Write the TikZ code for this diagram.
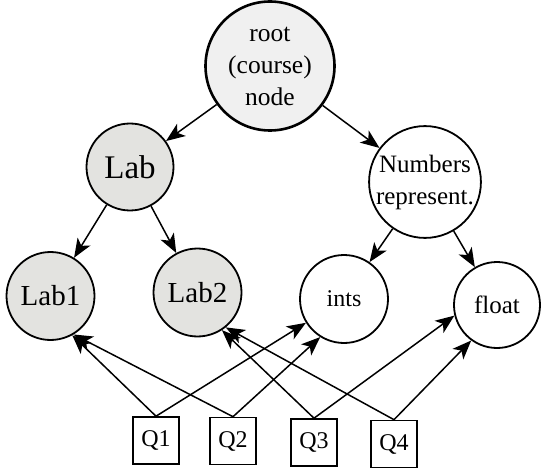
\documentclass[tikz,border=0pt]{standalone}
\usepackage{fontspec}
\setmainfont{Liberation Serif}
\usetikzlibrary{arrows.meta}
\definecolor{rootfill}{RGB}{240,240,240}
\definecolor{labfill}{RGB}{227,227,224}
\begin{document}
\begin{tikzpicture}[x=1pt,y=-1pt,
  cnode/.style={circle,draw,line width=1.8pt,inner sep=0pt,align=center,fill=white},
  qbox/.style={draw,line width=1.6pt,minimum width=46pt,minimum height=47pt,inner sep=0pt,font=\fontsize{24}{26}\selectfont},
  arr/.style={line width=1.5pt,-{Stealth[length=19pt,width=15pt,inset=5pt]}}
]
\useasboundingbox (0,0) rectangle (541,468);
\node[cnode,line width=2.6pt,fill=rootfill,minimum size=129pt,font=\fontsize{25.5}{32}\selectfont] (root) at (270,66) {root\\(course)\\node};
\node[cnode,fill=labfill,minimum size=87pt,font=\fontsize{33}{34}\selectfont] (lab) at (130,167) {Lab};
\node[cnode,minimum size=110pt,font=\fontsize{25}{32}\selectfont] (num) at (425,182) {Numbers\\represent.};
\node[cnode,fill=labfill,minimum size=88pt,font=\fontsize{29}{30}\selectfont] (lab1) at (50.5,296) {Lab1};
\node[cnode,fill=labfill,minimum size=88pt,font=\fontsize{29}{30}\selectfont] (lab2) at (197.5,292.5) {Lab2};
\node[cnode,minimum size=88pt,font=\fontsize{24}{30}\selectfont] (ints) at (344,299) {ints};
\node[cnode,minimum size=86pt,font=\fontsize{25}{30}\selectfont] (float) at (497,305) {float};
\node[qbox] (q1) at (156,440.5) {Q1};
\node[qbox] (q2) at (233,441) {Q2};
\node[qbox] (q3) at (314,442.5) {Q3};
\node[qbox] (q4) at (394,444) {Q4};
\draw[arr] (root) -- (lab);
\draw[arr] (root) -- (num);
\draw[arr] (lab) -- (lab1);
\draw[arr] (lab) -- (lab2);
\draw[arr] (num) -- (ints);
\draw[arr] (num) -- (float);
\draw[arr] (q1.north) -- (lab1.-61);
\draw[arr] (q2.north) -- (lab1.-59);
\draw[arr] (q1.north) -- (ints.212);
\draw[arr] (q2.north) -- (ints.238);
\draw[arr] (q3.north) -- (lab2.-57);
\draw[arr] (q4.north) -- (lab2.-51);
\draw[arr] (q3.north) -- (float.194);
\draw[arr] (q4.north) -- (float.234);
\end{tikzpicture}
\end{document}
